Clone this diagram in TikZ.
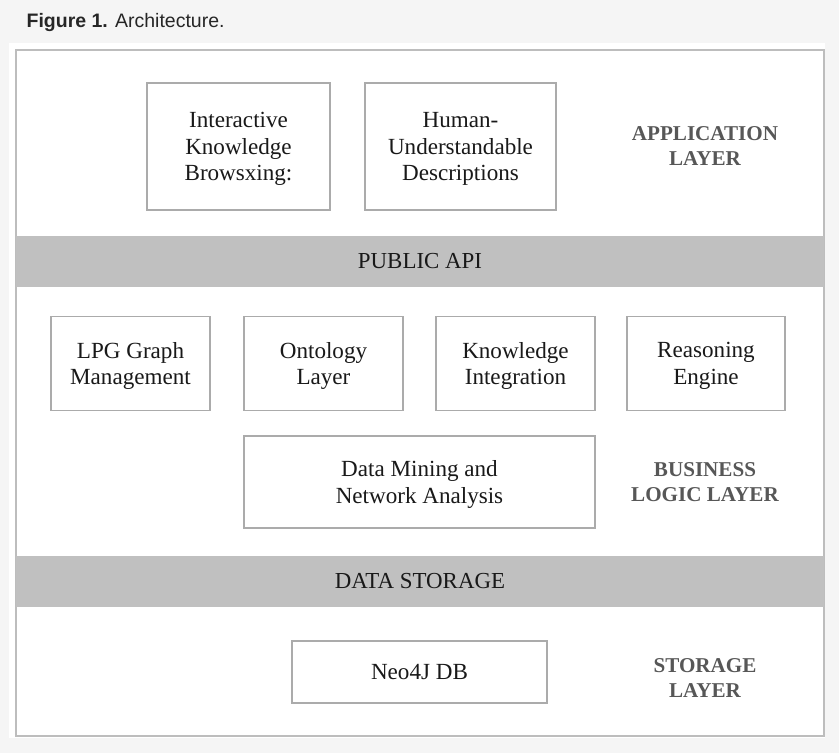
\documentclass[tikz,border=0pt]{standalone}
\usepackage{fontspec}
\setmainfont{Liberation Serif}
\newfontfamily\captionfont{Liberation Sans}
\usetikzlibrary{positioning}
\definecolor{pagegray}{HTML}{F5F5F5}
\definecolor{framegray}{HTML}{BDBDBD}
\definecolor{bargray}{HTML}{C0C0C0}
\definecolor{boxgray}{HTML}{ABABAB}
\definecolor{layergray}{HTML}{575757}

\begin{document}
\begin{tikzpicture}[x=1pt, y=-1pt, line width=1.3pt,
    box/.style={draw=boxgray, fill=white, align=center, inner sep=0pt,
      text depth=0pt, text=black!90, font=\fontsize{23.1}{26.7}\selectfont},
    bar/.style={fill=bargray, minimum width=808pt, minimum height=51pt,
      inner sep=0pt, text=black!90, font=\fontsize{22.9}{26.7}\selectfont},
    layer/.style={align=center, text=layergray,
      font=\fontsize{21.1}{24.5}\selectfont\bfseries}]
  \fill[pagegray] (0,0) rectangle (839,753);
  \useasboundingbox (0,0) rectangle (839,753);
  \node[anchor=base west, inner sep=0pt, text=black!85,
    font=\captionfont\fontsize{19.5}{23}\selectfont] (caption) at (26,27)
    {\textbf{Figure 1.} Architecture.};
  \fill[white] (9,43) rectangle (825,738);
  \draw[framegray] (16,50) rectangle (824,736);
  % application layer
  \node[box, minimum width=183pt, minimum height=127pt] (browse) at (238.5,146.5)
    {Interactive\\Knowledge\\Browsxing:};
  \node[box, minimum width=191pt, minimum height=127pt] (describe) at (460.5,146.5)
    {Human-\\Understandable\\Descriptions};
  \node[layer] (applayer) at (705,146) {APPLICATION\\LAYER};
  \node[bar] (api) at (420,261.5) {PUBLIC API};
  % business logic layer
  \node[box, minimum width=159pt, minimum height=94pt] (lpg) at (130.5,363.5)
    {LPG Graph\\Management};
  \node[box, minimum width=159pt, minimum height=94pt, right=32.7pt of lpg] (ontology)
    {Ontology\\Layer};
  \node[box, minimum width=159pt, minimum height=94pt, right=31.7pt of ontology] (integration)
    {Knowledge\\Integration};
  \node[box, minimum width=158pt, minimum height=94pt, right=30.7pt of integration] (reasoning)
    {Reasoning\\Engine};
  \node[box, minimum width=351pt, minimum height=92pt] (mining) at (419.5,482)
    {Data Mining and\\Network Analysis};
  \node[layer] (bizlayer) at (705,482) {BUSINESS\\LOGIC LAYER};
  \node[bar] (storage) at (420,581.5) {DATA STORAGE};
  % storage layer
  \node[box, minimum width=255pt, minimum height=62pt] (neo) at (419.5,672)
    {Neo4J DB};
  \node[layer] (storelayer) at (705,678) {STORAGE\\LAYER};
\end{tikzpicture}
\end{document}
